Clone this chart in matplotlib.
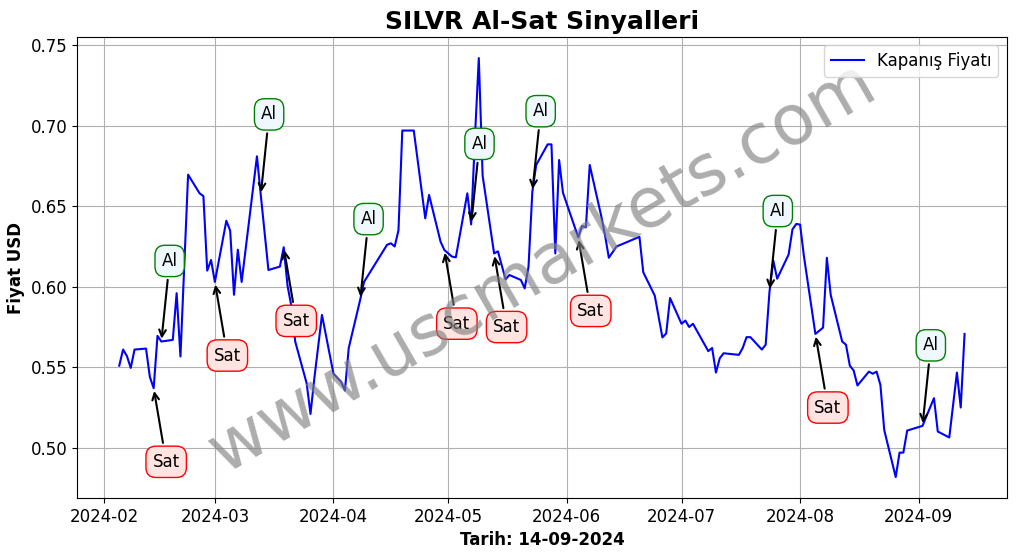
import matplotlib
matplotlib.use("Agg")
import matplotlib.pyplot as plt
import pandas as pd

dates = ["2024-02-05", "2024-02-06", "2024-02-07", "2024-02-08", "2024-02-09", "2024-02-12",
         "2024-02-13", "2024-02-14", "2024-02-15", "2024-02-16", "2024-02-19", "2024-02-20",
         "2024-02-21", "2024-02-23", "2024-02-26", "2024-02-27", "2024-02-28", "2024-02-29",
         "2024-03-01", "2024-03-04", "2024-03-05", "2024-03-06", "2024-03-07", "2024-03-08",
         "2024-03-12", "2024-03-13", "2024-03-15", "2024-03-18", "2024-03-19", "2024-03-20",
         "2024-03-21", "2024-03-22", "2024-03-25", "2024-03-26", "2024-03-27", "2024-03-29",
         "2024-04-01", "2024-04-03", "2024-04-04", "2024-04-05", "2024-04-08", "2024-04-09",
         "2024-04-15", "2024-04-16", "2024-04-17", "2024-04-18", "2024-04-19", "2024-04-22",
         "2024-04-25", "2024-04-26", "2024-04-29", "2024-04-30", "2024-05-02", "2024-05-03",
         "2024-05-06", "2024-05-07", "2024-05-08", "2024-05-09", "2024-05-10", "2024-05-13",
         "2024-05-14", "2024-05-16", "2024-05-17", "2024-05-20", "2024-05-21", "2024-05-22",
         "2024-05-23", "2024-05-24", "2024-05-27", "2024-05-28", "2024-05-29", "2024-05-30",
         "2024-05-31", "2024-06-04", "2024-06-05", "2024-06-06", "2024-06-07", "2024-06-10",
         "2024-06-11", "2024-06-12", "2024-06-14", "2024-06-20", "2024-06-21", "2024-06-24",
         "2024-06-26", "2024-06-27", "2024-06-28", "2024-07-01", "2024-07-02", "2024-07-03",
         "2024-07-04", "2024-07-08", "2024-07-09", "2024-07-10", "2024-07-11", "2024-07-12",
         "2024-07-16", "2024-07-17", "2024-07-18", "2024-07-19", "2024-07-22", "2024-07-23",
         "2024-07-24", "2024-07-25", "2024-07-26", "2024-07-29", "2024-07-30", "2024-07-31",
         "2024-08-01", "2024-08-02", "2024-08-05", "2024-08-07", "2024-08-08", "2024-08-09",
         "2024-08-12", "2024-08-13", "2024-08-14", "2024-08-15", "2024-08-16", "2024-08-19",
         "2024-08-20", "2024-08-21", "2024-08-22", "2024-08-23", "2024-08-26", "2024-08-27",
         "2024-08-28", "2024-08-29", "2024-09-02", "2024-09-03", "2024-09-05", "2024-09-06",
         "2024-09-09", "2024-09-11", "2024-09-12", "2024-09-13"]

prices = [0.551, 0.561, 0.557, 0.5496, 0.561, 0.5616,
          0.544, 0.537, 0.5695, 0.566, 0.567, 0.596,
          0.5567, 0.6696, 0.658, 0.6563, 0.610, 0.6166,
          0.603, 0.641, 0.6348, 0.595, 0.623, 0.603,
          0.681, 0.657, 0.6104, 0.6125, 0.6245, 0.6005,
          0.588, 0.566, 0.540, 0.521, 0.543, 0.5825,
          0.546, 0.541, 0.5355, 0.562, 0.592, 0.603,
          0.626, 0.627, 0.625, 0.635, 0.697, 0.697,
          0.6425, 0.657, 0.628, 0.6228, 0.6187, 0.6183,
          0.658, 0.6387, 0.693, 0.742, 0.669, 0.6207,
          0.622, 0.6046, 0.6073, 0.6042, 0.599, 0.6125,
          0.659, 0.6756, 0.6884, 0.6884, 0.6207, 0.6787,
          0.6584, 0.6307, 0.6377, 0.6369, 0.6756, 0.644,
          0.632, 0.618, 0.625, 0.631, 0.609, 0.5945,
          0.5685, 0.571, 0.593, 0.577, 0.579, 0.575,
          0.577, 0.560, 0.562, 0.5467, 0.5556, 0.5587,
          0.5577, 0.562, 0.5687, 0.5687, 0.561, 0.564,
          0.597, 0.6162, 0.605, 0.620, 0.6356, 0.639,
          0.6386, 0.619, 0.5707, 0.5746, 0.618, 0.595,
          0.566, 0.564, 0.551, 0.548, 0.5387, 0.5473,
          0.546, 0.5473, 0.539, 0.511, 0.4818, 0.497,
          0.497, 0.5107, 0.5136, 0.5194, 0.5308, 0.5101,
          0.5064, 0.5467, 0.525, 0.5707]

buy_dates = ["2024-02-16", "2024-03-13", "2024-04-08", "2024-05-07", "2024-05-23", "2024-07-24", "2024-09-02"]
sell_dates = ["2024-02-14", "2024-03-01", "2024-03-19", "2024-04-30", "2024-05-13", "2024-06-04", "2024-08-05"]

df = pd.DataFrame({"Close": prices}, index=pd.to_datetime(dates))

fig, ax = plt.subplots(figsize=(10.17, 5.54), dpi=100)
fig.subplots_adjust(left=0.0757, right=0.990, top=0.933, bottom=0.101)

ax.plot(df.index, df["Close"], color="blue", linewidth=1.5, label="Kapanış Fiyatı")

# sinyal kutulari
for d in buy_dates:
    t = pd.Timestamp(d)
    ax.annotate("Al", xy=(t, df.loc[t, "Close"]), xytext=(6, 58), textcoords="offset points",
                ha="center", va="center", fontsize=12,
                bbox=dict(boxstyle="round,pad=0.4,rounding_size=0.6", fc="#f0f8ff", ec="green", lw=1),
                arrowprops=dict(arrowstyle="->", color="black", lw=1.5))

for d in sell_dates:
    t = pd.Timestamp(d)
    ax.annotate("Sat", xy=(t, df.loc[t, "Close"]), xytext=(9, -53), textcoords="offset points",
                ha="center", va="center", fontsize=12,
                bbox=dict(boxstyle="round,pad=0.4,rounding_size=0.6", fc="#ffe4e1", ec="red", lw=1),
                arrowprops=dict(arrowstyle="->", color="black", lw=1.5))

ax.text(0.5, 0.5, "www.uscmarkets.com", transform=ax.transAxes, fontsize=50, color="gray",
        alpha=0.65, rotation=30, ha="center", va="center")

ax.set_title("SILVR Al-Sat Sinyalleri", fontsize=18, fontweight="bold")
ax.set_xlabel("Tarih: 14-09-2024", fontsize=12, fontweight="bold")
ax.set_ylabel("Fiyat USD", fontsize=12, fontweight="bold")
ax.tick_params(labelsize=12)
ax.grid(True)
ax.legend(loc="upper right", fontsize=12)

fig.savefig("out.png")
